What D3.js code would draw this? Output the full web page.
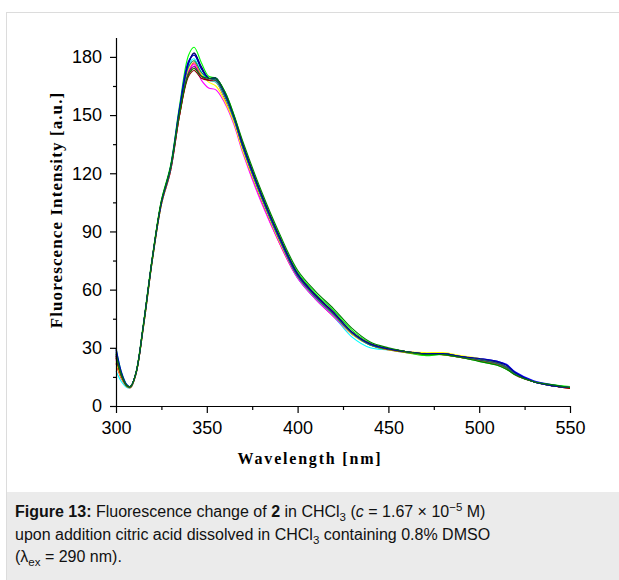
<!DOCTYPE html>
<html>
<head>
<meta charset="utf-8">
<script src="https://cdn.jsdelivr.net/npm/d3@7"></script>
<style>
  body { margin: 0; background: #fff; width: 619px; height: 580px; overflow: hidden; position: relative; }
  #card { position: absolute; left: 6px; top: 12px; width: 700px; height: 600px; border-left: 1px solid #dcdcdc; border-top: 1px solid #dcdcdc; background: #fff; }
  #chart { position: absolute; left: 0; top: 0; }
  #caption { position: absolute; left: 7px; top: 492px; width: 700px; height: 100px; background: #ebebeb;
    font-family: "Liberation Sans", Arial, sans-serif; font-size: 16px; line-height: 22.5px; color: #111; }
  #caption p { margin: 0; padding: 9px 0 0 8px; white-space: nowrap; }
  sub, sup { font-size: 11.5px; line-height: 0; }
</style>
</head>
<body>
<div id="card"></div>
<svg id="chart" width="619" height="492"></svg>
<div id="caption"></div>
<script>
const wavelengths = [300,303,306,308,311,315,320,325,330,335,340,343,347,351,355,360,365,370,380,390,400,410,420,430,440,450,460,470,480,490,500,510,515,520,530,540,550];

// one emission spectrum per addition step (Origin default colour order)
const black    = [26,15.5,10.5,10,17,41,76,105,122,152,177,182,174,169,169,161,149,134,109,87,68,57,48,38,32,29.5,28,27,27,25.5,24,22,20,16.5,12.5,10.5,9.5];
const red      = [22,14,10,9.5,16.5,40,75,104,121,150,172,177,171,168,167,158,146,131,106,84,66,55,46,37,31.5,29,28,27,26.5,25,23.5,21.5,19.5,16,12.5,10.5,9];
const green    = [30,17.5,11,10,17.5,42,77,106,124,155,181,185,177,170,169,162,150,135,110,88,69,58,49,39,32.5,29.5,27.5,26,26.5,25,23,21,19,16,12.5,11,10];
const blue     = [30,17.5,11,10,17,41,76,105,123,154,178,181,174,169,169,161,149,134,109,87,68,57,48,38,32,29.5,28,27,27,25.5,24.5,23,21.5,17.5,13,11,9.5];
const cyan     = [18,12.5,9.5,9.5,16.5,40,75,104,122,152,176,179,172,168,167,159,147,132,107,85,66,55,46,35.5,30,29,28,27,27,25.5,24,22,20,16.5,12.5,10.5,9.5];
const magenta  = [24,14.5,10,9.5,16.5,40,75,104,121,150,173,176,168,164,163,156,145,130,105,84,66,55,46,37,31.5,29,28,27,27,25,23.5,21.5,19.5,16,12.5,10.5,9.5];
const yellow   = [23,14.5,10,9.5,16.5,40,75,104,122,151,174,178,171,167,165,157,146,131,107,85,67,56,47,37,31.5,29,28,27.5,27.5,26,24.5,22,20,16.5,12.5,10.5,9.5];
const darkYel  = [25,15,10,9.5,16.5,40,75,104,121,150,171,174,170,168,168,160,148,133,108,86,67,56,47,37.5,31.5,29,27.5,26.5,26.5,25,23.5,21.5,19.5,16,12.5,10.5,9.5];
const navy     = [28,16.5,10.5,10,17,41,76,105,122,152,177,182,175,169,169,161,149,134,109,87,68,57,48,38,32,29.5,28,27,27,25.5,24,22.5,21,17,12.5,10.5,9.5];
const purple   = [26,15.5,10.5,10,17,41,76,105,122,151,172,175,170,168,168,160,148,133,108,86,67,56.5,47.5,38,32,29.5,28,27,27,25.5,24,22,20,16.5,12.5,10.5,9.5];
const wine     = [25,15.5,10.5,10,17,41,76,105,122,150,170,173,169,168,168,160,149,134,109,87,68,57,48,38,32,29.5,28,27,27,25.5,24,22,20,16.5,12.5,10.5,9];
const darkCyan = [27,16,10.5,10,17,41,76,105,122,152,175,178,172,169,168,160,148,133,108,86,67,56,47,37.5,31.5,29.5,28,27,27,25.5,24,22,20,16.5,12.5,10.5,9.5];
const royal    = [29,16.5,10.5,10,17,41,76,105,123,153,177,181,174,169,169,161,149,134,109,87,68,57,48,38,32,29.5,28,27,27,25.5,24.5,23,21,17,12.5,10.5,9.5];
const olive    = [27,16,10.5,10,17,41,76,106,123,151,171,174,170,169,169,162,150,136,111,89,70,59,50,40,33,30,28,26.5,26.5,25,23,21,19,16,12.5,11,9.5];

const series = [
  { values: black, color: "#000000" },
  { values: red, color: "#ff0000" },
  { values: green, color: "#00ff00" },
  { values: blue, color: "#0000ff" },
  { values: cyan, color: "#00ffff" },
  { values: magenta, color: "#ff00ff" },
  { values: yellow, color: "#ffff00" },
  { values: darkYel, color: "#808000" },
  { values: navy, color: "#000080" },
  { values: purple, color: "#800080" },
  { values: wine, color: "#800000" },
  { values: darkCyan, color: "#008080" },
  { values: royal, color: "#0000a0" },
  { values: olive, color: "#008000" }
];

const xMajor = [300, 350, 400, 450, 500, 550];
const xMinor = [325, 375, 425, 475, 525];
const yMajor = [0, 30, 60, 90, 120, 150, 180];
const yMinor = [15, 45, 75, 105, 135, 165];

const svg = d3.select("#chart");

const x = d3.scaleLinear().domain([300, 550]).range([116, 570]);
const y = d3.scaleLinear().domain([0, 190]).range([406, 37.5]);

const line = d3
  .line()
  .x((d, i) => x(wavelengths[i]))
  .y((d) => y(d))
  .curve(d3.curveCatmullRom.alpha(0.5));

svg
  .append("g")
  .selectAll("path")
  .data(series)
  .enter()
  .append("path")
  .attr("d", (d) => line(d.values))
  .attr("fill", "none")
  .attr("stroke", (d) => d.color)
  .attr("stroke-width", 1.1);

// axes
const tickFont = (g) =>
  g.selectAll("text")
    .attr("font-family", "'Liberation Sans', Arial, sans-serif")
    .attr("font-size", 18)
    .attr("fill", "#000");

svg
  .append("g")
  .attr("transform", "translate(116,0)")
  .call(d3.axisLeft(y).tickValues(yMinor).tickSize(3).tickSizeOuter(0).tickFormat(""))
  .call((g) => g.select(".domain").remove())
  .call((g) => g.selectAll("line").attr("stroke-width", 1.2));

svg
  .append("g")
  .attr("transform", "translate(116,0)")
  .call(d3.axisLeft(y).tickValues(yMajor).tickSize(6).tickSizeOuter(0).tickPadding(8))
  .call(tickFont)
  .call((g) => g.selectAll("line, .domain").attr("stroke-width", 1.2));

svg
  .append("g")
  .attr("transform", "translate(0,406)")
  .call(d3.axisBottom(x).tickValues(xMinor).tickSize(4).tickSizeOuter(0).tickFormat(""))
  .call((g) => g.select(".domain").remove())
  .call((g) => g.selectAll("line").attr("stroke-width", 1.2));

svg
  .append("g")
  .attr("transform", "translate(0,406)")
  .call(d3.axisBottom(x).tickValues(xMajor).tickSize(7).tickSizeOuter(0).tickPadding(8))
  .call(tickFont)
  .call((g) => g.selectAll("line, .domain").attr("stroke-width", 1.2));

// axis titles
svg
  .append("text")
  .attr("transform", "translate(62,210) rotate(-90)")
  .attr("text-anchor", "middle")
  .attr("font-family", "'Liberation Serif', 'Times New Roman', serif")
  .attr("font-weight", "bold")
  .attr("font-size", 17)
  .attr("letter-spacing", 1.1)
  .text("Fluorescence Intensity [a.u.]");

svg
  .append("text")
  .attr("x", 310)
  .attr("y", 464)
  .attr("text-anchor", "middle")
  .attr("font-family", "'Liberation Serif', 'Times New Roman', serif")
  .attr("font-weight", "bold")
  .attr("font-size", 16)
  .attr("letter-spacing", 1.8)
  .text("Wavelength [nm]");

d3.select("#caption")
  .append("p")
  .html(
    "<b>Figure 13:</b> Fluorescence change of <b>2</b> in CHCl<sub>3</sub> (<i>c</i> = 1.67 × 10<sup>−5</sup> M)<br>" +
    "upon addition citric acid dissolved in CHCl<sub>3</sub> containing 0.8% DMSO<br>" +
    "(λ<sub>ex</sub> = 290 nm)."
  );
</script>
</body>
</html>
